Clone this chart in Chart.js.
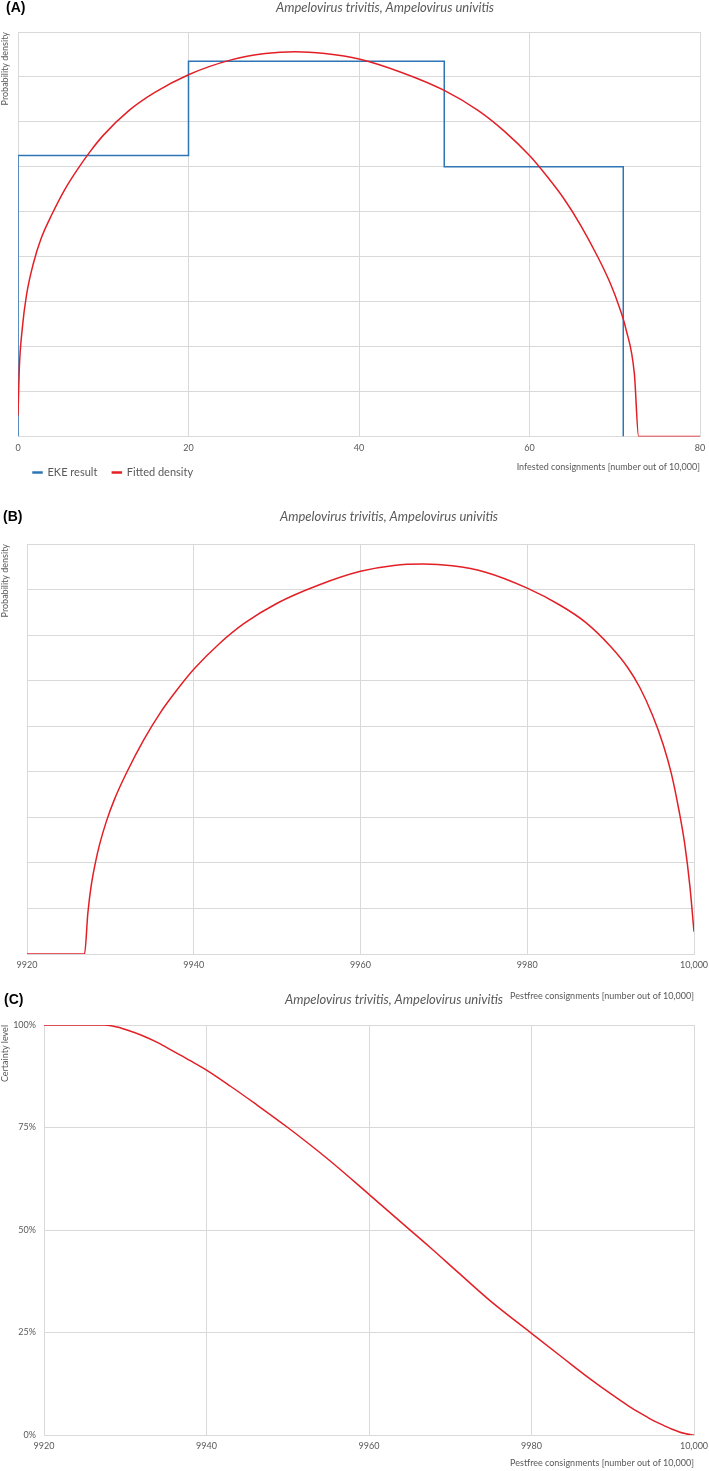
<!DOCTYPE html>
<html>
<head>
<meta charset="utf-8">
<script src="https://cdn.jsdelivr.net/npm/chart.js@4.4.1/dist/chart.umd.min.js"></script>
<style>
  html, body { margin: 0; padding: 0; background: #fff; }
  body { width: 709px; height: 1471px; position: relative; overflow: hidden; }
  .panel { position: absolute; left: 0; width: 709px; }
</style>
</head>
<body>
<div class="panel" style="top:0;height:488px"><canvas id="chart-a"></canvas></div>
<div class="panel" style="top:505px;height:497px"><canvas id="chart-b"></canvas></div>
<div class="panel" style="top:988px;height:483px"><canvas id="chart-c"></canvas></div>
<script>
const panelTitle = 'Ampelovirus trivitis, Ampelovirus univitis';

// (A) infested consignments: EKE histogram and fitted density
const ekeX = [0, 0, 20, 20, 50, 50, 71, 71];
const ekeY = [0, 0.0125, 0.0125, 0.0167, 0.0167, 0.0120, 0.0120, 0];
const fitAX = [0, 0.15, 0.5, 1, 1.8, 2.7, 4, 5.5, 7, 8.5, 10, 13, 16, 20, 25, 29, 32.5, 36, 40, 45, 50, 54, 57, 60, 62, 64, 66, 68, 69.5, 70.5, 71.3, 72.3, 72.8, 80];
const fitAY = [0.00094, 0.0030, 0.0048, 0.0063, 0.0077, 0.0088, 0.0099, 0.0110, 0.0119, 0.0127, 0.0134, 0.0145, 0.0153, 0.0161, 0.01676, 0.01704, 0.01712, 0.01704, 0.0168, 0.0162, 0.0154, 0.0145, 0.0136, 0.0125, 0.0116, 0.0106, 0.0094, 0.0080, 0.0068, 0.0058, 0.0048, 0.0028, 0, 0];
const aTickValues = [0, 20, 40, 60, 80];
const aTickLabels = ['0', '20', '40', '60', '80'];

// (B) pestfree consignments: fitted density
const fitBX = [9920, 9926.9, 9927.3, 9927.7, 9928.2, 9928.7, 9929.5, 9930.5, 9932, 9934, 9936, 9938, 9940, 9943, 9946, 9950, 9955, 9960, 9964, 9967.5, 9971, 9975, 9980, 9984, 9987, 9990, 9992, 9993.5, 9995, 9996.3, 9997.3, 9998.2, 9998.9, 9999.5, 10000];
const fitBY = [0, 0, 0.0018, 0.0030, 0.0040, 0.0048, 0.0058, 0.0068, 0.0080, 0.0094, 0.0106, 0.0116, 0.0125, 0.0136, 0.0145, 0.0154, 0.0162, 0.0168, 0.01706, 0.01712, 0.01704, 0.01676, 0.01606, 0.0153, 0.01456, 0.0135, 0.0126, 0.0117, 0.0105, 0.0092, 0.0079, 0.0063, 0.0048, 0.0030, 0.00098];
const pestTickValues = [9920, 9940, 9960, 9980, 10000];
const pestTickLabels = ['9920', '9940', '9960', '9980', '10,000'];
const densityGrid = [0, 0.002, 0.004, 0.006, 0.008, 0.010, 0.012, 0.014, 0.016, 0.018];

// (C) pestfree consignments: certainty level (%)
const certX = [9920, 9927.5, 9929, 9930.5, 9932, 9934, 9936, 9938, 9940, 9943, 9946, 9950, 9955, 9960, 9964, 9967.5, 9971, 9975, 9980, 9984, 9987, 9990, 9992, 9993.5, 9995, 9996.3, 9997.3, 9998.2, 9998.9, 9999.5, 10000];
const certY = [100, 100, 99.5, 98.6, 97.5, 95.7, 93.5, 91.3, 89.0, 85.0, 80.8, 75.0, 67.2, 58.7, 51.8, 45.8, 39.6, 32.6, 24.8, 18.6, 14.0, 9.7, 7.0, 5.2, 3.5, 2.3, 1.4, 0.75, 0.35, 0.1, 0];
const certTickValues = [0, 25, 50, 75, 100];
const certTickLabels = ['0%', '25%', '50%', '75%', '100%'];

const GRID = '#d9d9d9';
const TEXT = '#595959';
const RED = '#e31f26';
const BLUE = '#2e75b6';

Chart.defaults.font.family = 'Lato, "Open Sans", sans-serif';
Chart.defaults.color = TEXT;

function to_points(xs, ys) {
    return xs.map((x, i) => ({ x: x, y: ys[i] }));
}

// panel letter and italic title drawn on the canvas
const panelHeader = {
    id: 'panelHeader',
    afterDraw(chart, args, opts) {
        const ctx = chart.ctx;
        ctx.save();
        ctx.textBaseline = 'middle';
        ctx.textAlign = 'left';
        ctx.fillStyle = '#000';
        ctx.font = 'bold 14px "Liberation Sans", Arial, sans-serif';
        ctx.fillText(opts.letter, opts.letterX, opts.y);
        ctx.textAlign = 'center';
        ctx.fillStyle = TEXT;
        ctx.font = 'italic 13px Lato, sans-serif';
        ctx.fillText(panelTitle, opts.titleX, opts.y);
        ctx.restore();
    }
};

function x_axis(min, max, values, labels, title, height, titleBottom) {
    return {
        type: 'linear',
        min: min,
        max: max,
        afterFit: (s) => {
            s.height = height;
            // let the layout padding alone decide where the plot ends
            s.paddingLeft = 0;
            s.paddingRight = 0;
        },
        afterBuildTicks: (s) => { s.ticks = values.map(v => ({ value: v })); },
        grid: { color: GRID, drawTicks: false },
        border: { color: GRID },
        ticks: {
            padding: 6,
            maxRotation: 0,
            autoSkip: false,
            font: { size: 9 },
            callback: (v) => labels[values.indexOf(v)]
        },
        title: {
            display: true,
            text: title,
            align: 'end',
            font: { size: 9 },
            padding: { top: 0, bottom: titleBottom }
        }
    };
}

function density_axis(width) {
    return {
        type: 'linear',
        min: 0,
        max: 0.018,
        afterFit: (s) => { s.width = width; },
        afterBuildTicks: (s) => { s.ticks = densityGrid.map(v => ({ value: v })); },
        grid: { color: GRID, drawTicks: false },
        border: { color: GRID },
        ticks: { display: false },
        title: {
            display: true,
            text: 'Probability density',
            align: 'end',
            font: { size: 9 },
            padding: 0
        }
    };
}

function red_line(label, points) {
    return {
        label: label,
        data: points,
        borderColor: RED,
        backgroundColor: RED,
        borderWidth: 1.5,
        pointRadius: 0,
        cubicInterpolationMode: 'monotone',
        fill: false
    };
}

const base_plugins = {
    tooltip: { enabled: false },
    title: { display: false }
};

// (A)
new Chart(document.getElementById('chart-a').getContext('2d'), {
    type: 'line',
    data: {
        datasets: [
            {
                label: 'EKE result',
                data: to_points(ekeX, ekeY),
                borderColor: BLUE,
                backgroundColor: BLUE,
                borderWidth: 1.5,
                pointRadius: 0,
                tension: 0,
                fill: false,
                order: 2
            },
            Object.assign(red_line('Fitted density', to_points(fitAX, fitAY)), { order: 1 })
        ]
    },
    options: {
        responsive: true,
        maintainAspectRatio: false,
        animation: false,
        events: [],
        layout: { padding: { top: 32, left: 0, right: 9, bottom: 0 } },
        scales: {
            x: x_axis(0, 80, aTickValues, aTickLabels, 'Infested consignments [number out of 10,000]', 15.5, -20.5),
            y: density_axis(18)
        },
        plugins: Object.assign({}, base_plugins, {
            legend: {
                display: true,
                position: 'bottom',
                align: 'start',
                fullSize: false,
                labels: {
                    boxWidth: 9,
                    boxHeight: 1,
                    padding: 15,
                    font: { size: 11 },
                    sort: (a, b) => a.datasetIndex - b.datasetIndex
                }
            },
            panelHeader: { letter: '(A)', letterX: 6, titleX: 385, y: 8 }
        })
    },
    plugins: [panelHeader]
});

// (B)
new Chart(document.getElementById('chart-b').getContext('2d'), {
    type: 'line',
    data: {
        datasets: [red_line('Fitted density', to_points(fitBX, fitBY))]
    },
    options: {
        responsive: true,
        maintainAspectRatio: false,
        animation: false,
        events: [],
        layout: { padding: { top: 39, left: 0, right: 15, bottom: 1 } },
        scales: {
            x: x_axis(9920, 10000, pestTickValues, pestTickLabels, 'Pestfree consignments [number out of 10,000]', 47, 0),
            y: density_axis(27)
        },
        plugins: Object.assign({}, base_plugins, {
            legend: { display: false },
            panelHeader: { letter: '(B)', letterX: 3, titleX: 389, y: 12 }
        })
    },
    plugins: [panelHeader]
});

// (C)
new Chart(document.getElementById('chart-c').getContext('2d'), {
    type: 'line',
    data: {
        datasets: [red_line('Certainty level', to_points(certX, certY))]
    },
    options: {
        responsive: true,
        maintainAspectRatio: false,
        animation: false,
        events: [],
        layout: { padding: { top: 37, left: 0, right: 15, bottom: 3 } },
        scales: {
            x: x_axis(9920, 10000, pestTickValues, pestTickLabels, 'Pestfree consignments [number out of 10,000]', 33, 0),
            y: {
                type: 'linear',
                min: 0,
                max: 100,
                afterFit: (s) => { s.width = 44; },
                afterBuildTicks: (s) => { s.ticks = certTickValues.map(v => ({ value: v })); },
                grid: { color: GRID, drawTicks: false },
                border: { color: GRID },
                ticks: {
                    padding: 8,
                    font: { size: 9 },
                    callback: (v) => certTickLabels[certTickValues.indexOf(v)]
                },
                title: {
                    display: true,
                    text: 'Certainty level',
                    align: 'end',
                    font: { size: 9 },
                    padding: 0
                }
            }
        },
        plugins: Object.assign({}, base_plugins, {
            legend: { display: false },
            panelHeader: { letter: '(C)', letterX: 4, titleX: 394, y: 12 }
        })
    },
    plugins: [panelHeader]
});
</script>
</body>
</html>
